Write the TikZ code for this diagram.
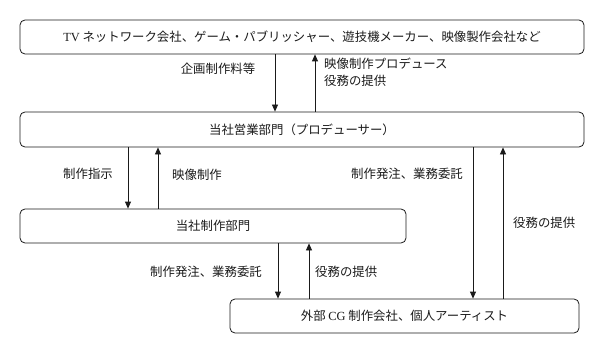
\documentclass[tikz,border=0pt]{standalone}
\usepackage{fontspec}
\setmainfont{Liberation Serif}
\newfontfamily\jpfont{Noto Sans CJK JP}
\usetikzlibrary{arrows.meta}
\definecolor{INK}{HTML}{1A1A1A}

\begin{document}
\begin{tikzpicture}[x=1pt,y=-1pt]
\tikzset{unitbox/.style={draw=INK,line width=0.8pt,rounded corners=5pt,inner sep=0pt,
  font=\jpfont\fontsize{12.4}{15}\selectfont,text=INK},
 flow/.style={-{Triangle[length=7pt,width=6pt]},line width=0.8pt,INK},
 lbl/.style={font=\jpfont\fontsize{12.4}{17}\selectfont,text=INK,inner sep=0pt}}
\useasboundingbox (0,0) rectangle (603,353);
% boxes
\node[unitbox,minimum width=564pt,minimum height=34pt] (client) at (302,37)
 {{\rmfamily TV} ネットワーク会社、ゲーム・パブリッシャー、遊技機メーカー、映像製作会社など};
\node[unitbox,minimum width=564pt,minimum height=35pt] (sales) at (302,129.5) {当社営業部門（プロデューサー）};
\node[unitbox,minimum width=386pt,minimum height=34pt] (prod) at (213,226) {当社制作部門};
\node[unitbox,minimum width=349pt,minimum height=34pt] (ext) at (404.5,316)
 {外部 {\rmfamily CG} 制作会社、個人アーティスト};
% client <-> sales
\draw[flow] ([xshift=-27pt]client.south) -- ([xshift=-27pt]sales.north);
\draw[flow] ([xshift=13pt]sales.north) -- ([xshift=13pt]client.south);
\node[lbl] (fee) at (218,69) {企画制作料等};
\node[lbl,anchor=west,align=left] (produce) at (324,72.5) {映像制作プロデュース\\役務の提供};
% sales <-> prod
\draw[flow] ([xshift=-85pt]prod.north |- sales.south) -- ([xshift=-85pt]prod.north);
\draw[flow] ([xshift=-55pt]prod.north) -- ([xshift=-55pt]prod.north |- sales.south);
\node[lbl] (order) at (88,174) {制作指示};
\node[lbl,anchor=west] (video) at (172,175) {映像制作};
% sales <-> ext
\draw[flow] ([xshift=68.5pt]ext.north |- sales.south) -- ([xshift=68.5pt]ext.north);
\draw[flow] ([xshift=98.5pt]ext.north) -- ([xshift=98.5pt]ext.north |- sales.south);
\node[lbl,anchor=east] (outsrcA) at (463,174) {制作発注、業務委託};
\node[lbl,anchor=west] (svcA) at (513,223) {役務の提供};
% prod <-> ext
\draw[flow] ([xshift=-126.5pt]ext.north |- prod.south) -- ([xshift=-126.5pt]ext.north);
\draw[flow] ([xshift=-95.5pt]ext.north) -- ([xshift=-95.5pt]ext.north |- prod.south);
\node[lbl,anchor=east] (outsrcB) at (262,272) {制作発注、業務委託};
\node[lbl,anchor=west] (svcB) at (315,272) {役務の提供};
\end{tikzpicture}
\end{document}
